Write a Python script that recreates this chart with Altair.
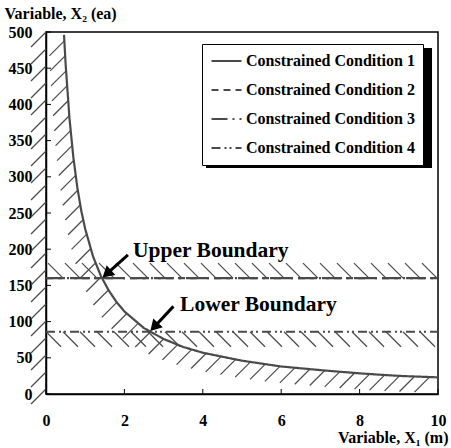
import numpy as np
import pandas as pd
import altair as alt

# ---- data -------------------------------------------------------------
# Constrained Condition 1: hyperbolic boundary X2 = f(X1)
x1_curve = [0.46, 0.5, 0.6, 0.7, 0.8, 0.9, 1.0, 1.2, 1.4, 1.6, 1.8, 2.0,
            2.5, 3.0, 3.5, 4.0, 5.0, 6.0, 7.0, 8.0, 9.0, 10.0]
x2_curve = [496, 456, 380, 326, 285, 253, 228, 190, 163, 143, 127, 114,
            91, 76, 65, 57, 46, 38, 33, 28.5, 25, 23]

# Horizontal constraints on X2
conditions = ["Constrained Condition 1", "Constrained Condition 2",
              "Constrained Condition 3", "Constrained Condition 4"]
limit_names = ["Constrained Condition 2", "Constrained Condition 3",
               "Constrained Condition 4"]
limit_values = [160, 160, 86]
upper_limit = 160
lower_limit = 86

x_ticks = [0, 2, 4, 6, 8, 10]
y_ticks = [0, 50, 100, 150, 200, 250, 300, 350, 400, 450, 500]

# Annotations
ann_text = ["Upper Boundary", "Lower Boundary"]
ann_x = [2.22, 3.42]
ann_y = [197, 123]
arrow_tail_x = [2.09, 3.25]
arrow_tail_y = [192, 121]
arrow_target = [upper_limit, lower_limit]

# ---- geometry helpers -------------------------------------------------
W, H = 392, 362
X_MAX, Y_MAX = 10, 500
sx = W / X_MAX      # px per X1 unit
sy = H / Y_MAX      # px per X2 unit
HATCH = 15          # hatch stroke extent (px)
GAP = 17            # hatch spacing (px)

FONT = "Liberation Serif"
GRAY = "#4a4a4a"

lx = np.log(x1_curve)
ly = np.log(x2_curve)

# hatch strokes on the infeasible side of the curve, evenly spaced along it
xd = np.exp(np.linspace(lx[0], lx[-1], 1500))
yd = np.exp(np.interp(np.log(xd), lx, ly))
arc = np.concatenate([[0], np.cumsum(np.hypot(np.diff(xd * sx), np.diff(yd * sy)))])
marks = np.arange(6, arc[-1], 15)
hx = np.interp(marks, arc, xd)
hy = np.interp(marks, arc, yd)
curve_hatch = pd.DataFrame({"x": hx, "y": hy,
                            "x2": hx - HATCH / sx, "y2": hy - HATCH / sy})

# hatch above the upper limit and below the lower limit
xu = np.arange(1, 30) * GAP / sx
upper_hatch = pd.DataFrame({"x": xu, "y": upper_limit,
                            "x2": xu - HATCH / sx, "y2": upper_limit + HATCH / sy})
xl = np.arange(0, 30) * GAP / sx
lower_hatch = pd.DataFrame({"x": xl, "y": lower_limit,
                            "x2": xl + HATCH / sx, "y2": lower_limit - HATCH / sy})
hatch_in = pd.concat([curve_hatch, upper_hatch, lower_hatch], ignore_index=True)

# hatch left of the X1 = 0 axis
ya = Y_MAX - np.arange(0, 22) * GAP / sy
axis_hatch = pd.DataFrame({"x": 0.0, "y": ya,
                           "x2": -HATCH / sx, "y2": ya - HATCH / sy})

# line table for the legend-driven layer
rows = [{"x": a, "y": b, "cond": conditions[0], "order": i}
        for i, (a, b) in enumerate(zip(x1_curve, x2_curve))]
for name, v in zip(limit_names, limit_values):
    rows += [{"x": 0, "y": v, "cond": name, "order": 0},
             {"x": X_MAX, "y": v, "cond": name, "order": 1}]
lines = pd.DataFrame(rows)

# arrows: head where the curve meets each limit
head_x = [float(np.exp(np.interp(np.log(v), ly[::-1], lx[::-1]))) for v in arrow_target]
head_y = list(arrow_target)
arr = []
for tx, ty, hxp, hyp in zip(arrow_tail_x, arrow_tail_y, head_x, head_y):
    dxp = (hxp - tx) * sx
    dyp = -(hyp - ty) * sy
    n = np.hypot(dxp, dyp)
    ux, uy = dxp / n, dyp / n
    back = 6.5
    cx = hxp - ux * back / sx
    cy = hyp + uy * back / sy
    ang = float(np.degrees(np.arctan2(dxp, -dyp)) % 360)
    arr.append({"tx": tx, "ty": ty, "cx": cx, "cy": cy, "ang": ang})
arrows = pd.DataFrame(arr)
labels = pd.DataFrame({"x": ann_x, "y": ann_y, "t": ann_text})

xs = alt.Scale(domain=[0, X_MAX], nice=False)
ys = alt.Scale(domain=[0, Y_MAX], nice=False)

x_axis = alt.Axis(
    values=x_ticks, format="d", title="Variable, X\u2081 (m)",
    titleX=402, titleY=43, titleAlign="right", titleBaseline="middle",
    ticks=False, labelPadding=18, labelOverlap=False, labelFlush=False)
y_axis = alt.Axis(
    values=y_ticks, format="d", title="Variable, X\u2082 (ea)",
    titleAngle=0, titleX=-42, titleY=-19, titleAlign="left",
    titleBaseline="middle", ticks=False, labelPadding=14,
    labelOverlap=False, labelFlush=False)


def X(field):
    return alt.X(field, scale=xs, axis=x_axis)


def Y(field):
    return alt.Y(field, scale=ys, axis=y_axis)


# legend box placement (px, relative to the plot area); a dark block
# behind it, offset down-right, shows as the drop shadow
LEG_X, LEG_Y = 156, 12
SHADOW_RIGHT, SHADOW_BOTTOM = 386, 136

# ---- layers -----------------------------------------------------------
hatch_layer = alt.Chart(hatch_in).mark_rule(
    color=GRAY, strokeWidth=1.2, clip=True
).encode(x=X("x:Q"), y=Y("y:Q"), x2="x2:Q", y2="y2:Q")

axis_hatch_layer = alt.Chart(axis_hatch).mark_rule(
    color=GRAY, strokeWidth=1.2, clip=False
).encode(x=X("x:Q"), y=Y("y:Q"), x2="x2:Q", y2="y2:Q")

line_layer = alt.Chart(lines).mark_line(color=GRAY, strokeWidth=2.2, clip=True).encode(
    x=X("x:Q"),
    y=Y("y:Q"),
    detail="cond:N",
    order="order:Q",
    strokeDash=alt.StrokeDash(
        "cond:N",
        scale=alt.Scale(domain=conditions,
                        range=[[1, 0], [7, 5], [16, 5, 2, 5], [9, 4, 2, 3, 2, 4]]),
        legend=alt.Legend(
            title=None, orient="none", legendX=LEG_X, legendY=LEG_Y,
            strokeColor="black", fillColor="white", padding=8,
            labelFont=FONT, labelFontWeight="bold", labelFontSize=16,
            labelColor="black", labelOffset=3, labelLimit=400,
            symbolType="stroke", symbolSize=900, symbolStrokeWidth=2.2,
            symbolStrokeColor=GRAY, clipHeight=18, rowPadding=11,
        ),
    ),
)

shadow = alt.Chart(pd.DataFrame({"k": [0]})).mark_rect(color="black").encode(
    x=alt.value(LEG_X + 4), x2=alt.value(SHADOW_RIGHT),
    y=alt.value(LEG_Y + 4), y2=alt.value(SHADOW_BOTTOM),
)

xtick_layer = alt.Chart(pd.DataFrame({"v": x_ticks})).mark_rule(
    color="black", strokeWidth=1
).encode(x=X("v:Q"), y=alt.value(H), y2=alt.value(H - 5))

ytick_layer = alt.Chart(pd.DataFrame({"v": y_ticks})).mark_rule(
    color="black", strokeWidth=1
).encode(y=Y("v:Q"), x=alt.value(0), x2=alt.value(5))

shaft_layer = alt.Chart(arrows).mark_rule(color="black", strokeWidth=3).encode(
    x=X("tx:Q"), y=Y("ty:Q"), x2="cx:Q", y2="cy:Q"
)
head_layer = alt.Chart(arrows).mark_point(
    shape="triangle-up", filled=True, color="black", size=170, opacity=1
).encode(
    x=X("cx:Q"), y=Y("cy:Q"),
    angle=alt.Angle("ang:Q", scale=None),
)

text_layer = alt.Chart(labels).mark_text(
    font=FONT, fontWeight="bold", fontSize=21.5, align="left",
    baseline="middle", color="black"
).encode(x=X("x:Q"), y=Y("y:Q"), text="t:N")

chart = alt.layer(
    hatch_layer, axis_hatch_layer, line_layer, shadow,
    xtick_layer, ytick_layer, shaft_layer, head_layer, text_layer
).properties(
    width=W, height=H,
    padding={"left": 46, "top": 32, "right": 13, "bottom": 54},
    autosize=alt.AutoSizeParams(type="none"),
    background="white",
).configure_view(
    stroke="black", strokeWidth=1.5
).configure_axis(
    domainColor="black", domainWidth=1.5, grid=False,
    labelFont=FONT, labelFontWeight="bold", labelFontSize=16, labelColor="black",
    titleFont=FONT, titleFontWeight="bold", titleFontSize=16, titleColor="black",
)

chart.save("out.html", embed_options={"renderer": "svg", "actions": False})
